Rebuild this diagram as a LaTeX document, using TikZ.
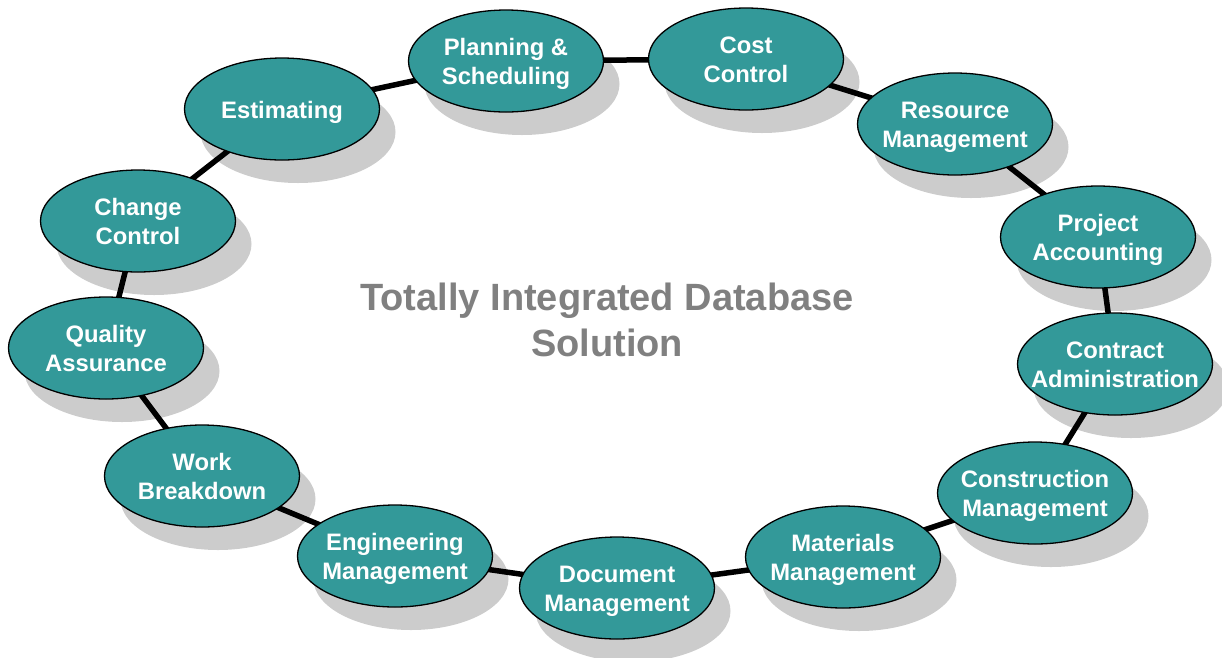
\documentclass[tikz,border=0pt]{standalone}
\usepackage{fontspec}
\setmainfont{Liberation Sans}
\definecolor{ovalfill}{HTML}{339999}
\definecolor{shadowc}{HTML}{CCCCCC}
\definecolor{titlec}{HTML}{808080}
\newcommand{\ovtxt}[1]{\vbox{\kern7pt\hbox{\makebox[0pt]{\begin{tabular}{@{}c@{}}#1\end{tabular}}}}}
\pgfdeclarelayer{shadowlayer}
\pgfdeclarelayer{linelayer}
\pgfsetlayers{shadowlayer,linelayer,main}
\tikzset{
  oval/.style={ellipse, draw=black, line width=1.3pt, fill=ovalfill,
    minimum width=195pt, minimum height=102pt, inner sep=0pt, outer sep=0pt,
    text=white, font=\fontsize{23.8}{29}\selectfont\bfseries},
  conn/.style={draw=black, line width=5.5pt},
  shad/.style={fill=shadowc},
  titletext/.style={text=titlec, align=center, font=\fontsize{38}{46}\selectfont\bfseries}
}
\usetikzlibrary{shapes.geometric}
\begin{document}
\begin{tikzpicture}[x=1pt,y=-1pt]
\useasboundingbox (0,0) rectangle (1222,657);
\node[oval] (est) at (282,109) {\ovtxt{Estimating}};
\node[oval] (plan) at (506,61) {\ovtxt{Planning \&\\Scheduling}};
\node[oval] (cost) at (746,59) {\ovtxt{Cost\\Control}};
\node[oval] (res) at (955,124) {\ovtxt{Resource\\Management}};
\node[oval] (proj) at (1098,237) {\ovtxt{Project\\Accounting}};
\node[oval] (contr) at (1115,364) {\ovtxt{Contract\\Administration}};
\node[oval] (constr) at (1035,493) {\ovtxt{Construction\\Management}};
\node[oval] (mat) at (843,557) {\ovtxt{Materials\\Management}};
\node[oval] (doc) at (617,588) {\ovtxt{Document\\Management}};
\node[oval] (eng) at (395,556) {\ovtxt{Engineering\\Management}};
\node[oval] (work) at (202,476) {\ovtxt{Work\\Breakdown}};
\node[oval] (qual) at (106,348) {\ovtxt{Quality\\Assurance}};
\node[oval] (chg) at (138,221) {\ovtxt{Change\\Control}};
\node[titletext] (title) at (607,320) {Totally Integrated Database\\Solution};
\begin{pgfonlayer}{shadowlayer}
\foreach \n in {est,plan,cost,res,proj,contr,constr,mat,doc,eng,work,qual,chg}
  \fill[shad] ([shift={(16pt,-23pt)}]\n.center) ellipse [x radius=97.5pt, y radius=51pt];
\end{pgfonlayer}
\begin{pgfonlayer}{linelayer}
\draw[conn] (est.center) -- (plan.center) -- (cost.center) -- (res.center) -- (proj.center)
  -- (contr.center) -- (constr.center) -- (mat.center) -- (doc.center) -- (eng.center)
  -- (work.center) -- (qual.center) -- (chg.center) -- (est.center);
\end{pgfonlayer}
\end{tikzpicture}
\end{document}
